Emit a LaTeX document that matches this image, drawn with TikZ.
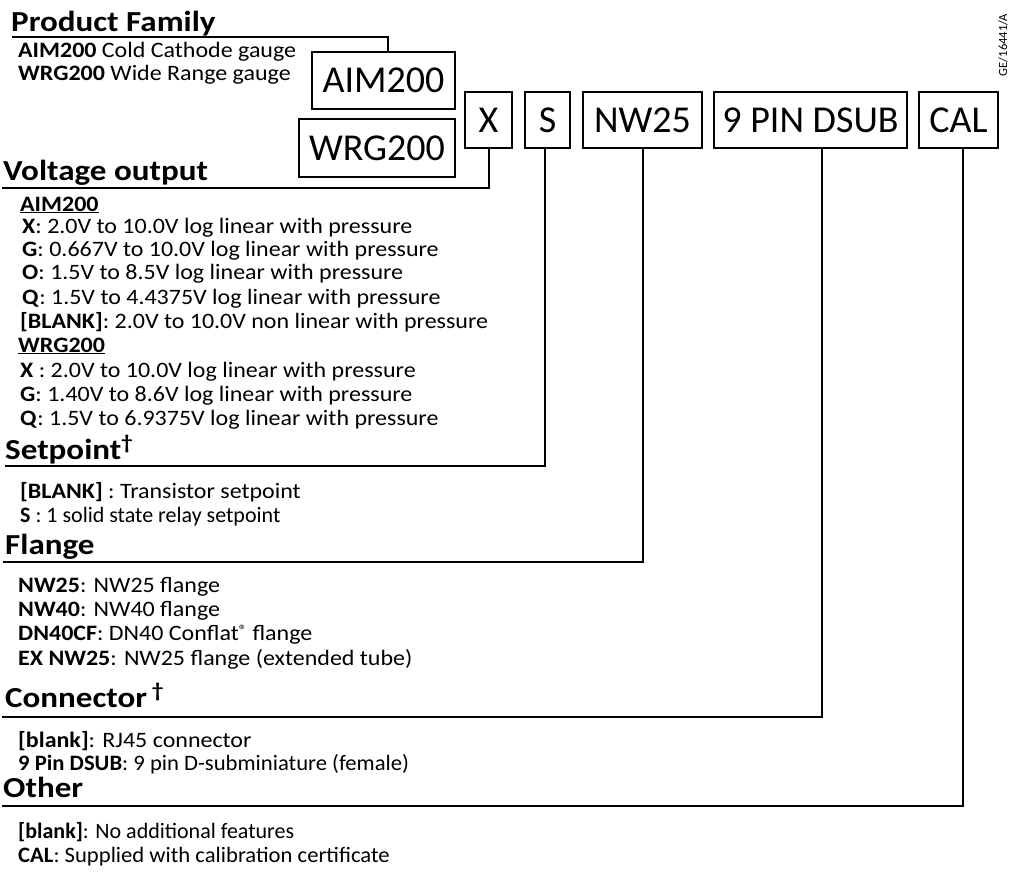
\documentclass[tikz,border=0pt]{standalone}
\usepackage{fontspec}
\setmainfont{Carlito}
\newfontfamily\widefont{Carlito}[FakeStretch=1.09]
\newfontfamily\headfont{Carlito}[FakeStretch=1.14]
\newfontfamily\lowfont{Carlito}[FakeStretch=1.03]
\begin{document}
\begin{tikzpicture}[x=1pt,y=-1pt,
  codebox/.style={draw, line width=2pt, inner sep=0pt, minimum height=56pt, font=\fontsize{38}{38}\selectfont},
  head/.style={anchor=base west, inner sep=0pt, font=\headfont\fontsize{29}{29}\selectfont\bfseries},
  body/.style={anchor=base west, inner sep=0pt, font=\widefont\fontsize{22}{22}\selectfont},
  lowbody/.style={anchor=base west, inner sep=0pt, font=\lowfont\fontsize{22}{22}\selectfont},
  plainbody/.style={anchor=base west, inner sep=0pt, font=\fontsize{22}{22}\selectfont},
  link/.style={line width=2pt}]
\useasboundingbox (0,0) rectangle (1009,871);
% code boxes
\node[codebox, minimum width=143pt, minimum height=57pt] (aim) at (383.5,80.5) {AIM200};
\node[codebox, minimum width=156pt, minimum height=58pt] (wrg) at (377,148) {WRG200};
\node[codebox, minimum width=47pt] (bx) at (488.5,120) {X};
\node[codebox, minimum width=45pt] (bs) at (547.5,120) {S};
\node[codebox, minimum width=119pt] (bnw) at (642.5,120) {NW25};
\node[codebox, minimum width=193pt] (bds) at (810.5,120) {9 PIN DSUB};
\node[codebox, minimum width=79pt] (bcal) at (958.5,120) {CAL};
% reference number
\node[rotate=90, inner sep=0pt, font=\fontsize{12.5}{12.5}\selectfont] (ref) at (1003,45) {GE/16441/A};
% headings
\node[head] (hpf) at (11,31) {Product Family};
\node[head] (hvo) at (3,180) {Voltage output};
\node[head] (hsp) at (5,459) {Setpoint\textsuperscript{\dag}};
\node[head] (hfl) at (5,554) {Flange};
\node[head] (hco) at (5,707) {Connector\,\textsuperscript{\dag}};
\node[head] (hot) at (3,797) {Other};
% end points of the heading rules
\coordinate (lpf) at (12,36.5);
\coordinate (lvo) at (2,188);
\coordinate (lsp) at (5,466);
\coordinate (lfl) at (3,562);
\coordinate (lco) at (2,717);
\coordinate (lot) at (2,806);
% connectors
\draw[link] (lpf) -| ([xshift=4.5pt]aim.north);
\draw[link] (bx.south) |- (lvo);
\draw[link] ([xshift=-2.5pt]bs.south) |- (lsp);
\draw[link] (bnw.south) |- (lfl);
\draw[link] ([xshift=11.5pt]bds.south) |- (lco);
\draw[link] ([xshift=4.5pt]bcal.south) |- (lot);
% product family
\node[body] (pf1) at (18,57) {\textbf{AIM200} Cold Cathode gauge};
\node[body] (pf2) at (18,80) {\textbf{WRG200} Wide Range gauge};
% voltage output
\node[body] (vo0) at (20,211) {\textbf{\underline{AIM200}}};
\node[body] (vo1) at (22,233) {\textbf{X}: 2.0V to 10.0V log linear with pressure};
\node[body] (vo2) at (22,256) {\textbf{G}: 0.667V to 10.0V log linear with pressure};
\node[body] (vo3) at (22,279) {\textbf{O}: 1.5V to 8.5V log linear with pressure};
\node[body] (vo4) at (22,304) {\textbf{Q}: 1.5V to 4.4375V log linear with pressure};
\node[body] (vo5) at (20,328) {\textbf{[BLANK]}: 2.0V to 10.0V non linear with pressure};
\node[body] (vo6) at (18,352) {\textbf{\underline{WRG200}}};
\node[body] (vo7) at (20,377) {\textbf{X} : 2.0V to 10.0V log linear with pressure};
\node[body] (vo8) at (20,401) {\textbf{G}: 1.40V to 8.6V log linear with pressure};
\node[body] (vo9) at (20,425) {\textbf{Q}: 1.5V to 6.9375V log linear with pressure};
% setpoint
\node[body] (sp1) at (20,498) {\textbf{[BLANK]} : Transistor setpoint};
\node[plainbody] (sp2) at (20,522) {\textbf{S} : 1 solid state relay setpoint};
% flange
\node[body] (fl1) at (18,592) {\textbf{NW25}: NW25 flange};
\node[body] (fl2) at (18,616) {\textbf{NW40}: NW40 flange};
\node[body] (fl3) at (18,640) {\textbf{DN40CF}: DN40 Conflat\raisebox{5pt}{\fontsize{15}{15}\selectfont ®} flange};
\node[body] (fl4) at (18,665) {\textbf{EX NW25}: NW25 flange (extended tube)};
% connector
\node[body] (co1) at (18,747) {\textbf{[blank]}: RJ45 connector};
\node[lowbody] (co2) at (18,770) {\textbf{9 Pin DSUB}: 9 pin D-subminiature (female)};
% other
\node[plainbody] (ot1) at (18,838) {\textbf{[blank]}: No additional features};
\node[lowbody] (ot2) at (18,862) {\textbf{CAL}: Supplied with calibration certificate};
\end{tikzpicture}
\end{document}
